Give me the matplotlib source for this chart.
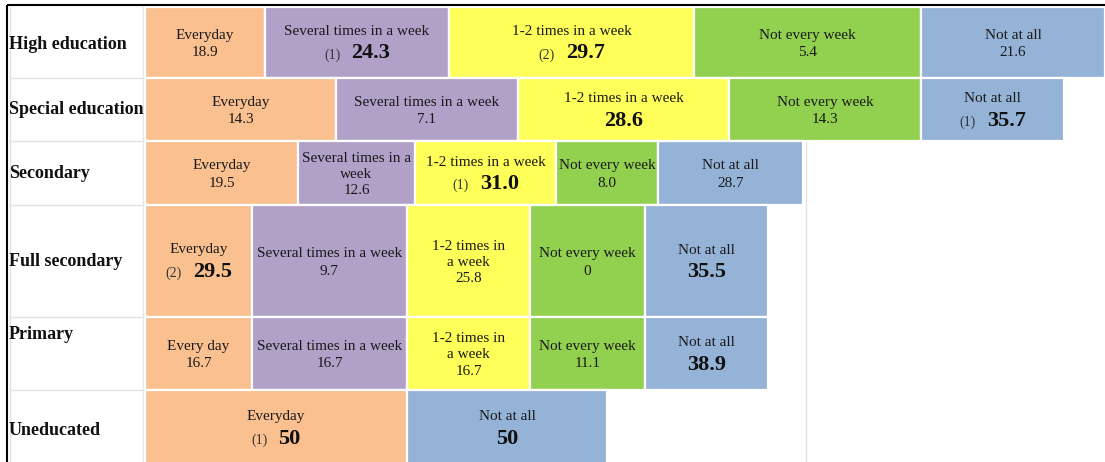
import numpy as np
import matplotlib
matplotlib.use("Agg")
import matplotlib.pyplot as plt
from matplotlib.offsetbox import TextArea, HPacker, AnnotationBbox

# ---------------- data ----------------
education_levels = ["High education", "Special education", "Secondary",
                    "Full secondary", "Primary", "Uneducated"]
categories = ["Everyday", "Several times in a week", "1-2 times in a week",
              "Not every week", "Not at all"]

# share of respondents (%) per category, one list per education level
high_education = [18.9, 24.3, 29.7, 5.4, 21.6]
special_education = [14.3, 7.1, 28.6, 14.3, 35.7]
secondary = [19.5, 12.6, 31.0, 8.0, 28.7]
full_secondary = [29.5, 9.7, 25.8, 0, 35.5]
primary = [16.7, 16.7, 16.7, 11.1, 38.9]
uneducated = [50, np.nan, np.nan, np.nan, 50]
values = [high_education, special_education, secondary,
          full_secondary, primary, uneducated]
value_decimals = [1, 1, 1, 1, 1, 0]

# cell labels as written in each tile
cell_labels = [
    ["Everyday", "Several times in a week", "1-2 times in a week", "Not every week", "Not at all"],
    ["Everyday", "Several times in a week", "1-2 times in a week", "Not every week", "Not at all"],
    ["Everyday", "Several times in a\nweek", "1-2 times in a week", "Not every week", "Not at all"],
    ["Everyday", "Several times in a week", "1-2 times in\na week", "Not every week", "Not at all"],
    ["Every day", "Several times in a week", "1-2 times in\na week", "Not every week", "Not at all"],
    ["Everyday", "", "", "", "Not at all"],
]

# highlighted (large bold) values and their rank markers
highlight = [
    [False, True, True, False, False],
    [False, False, True, False, True],
    [False, False, True, False, False],
    [True, False, False, False, True],
    [False, False, False, False, True],
    [True, False, False, False, True],
]
ranks = [
    [None, 1, 2, None, None],
    [None, None, None, None, 1],
    [None, None, 1, None, None],
    [2, None, None, None, None],
    [None, None, None, None, None],
    [1, None, None, None, None],
]

# tile widths (table units) as drawn in the source table
cell_widths = [
    [120, 184, 245, 227, 184],
    [191, 182, 211, 192, 143],
    [153, 117, 141, 102, 145],
    [107, 155, 123, 115, 123],
    [107, 155, 123, 115, 123],
    [262, 0, 0, 0, 200],
]
row_heights = [71, 63, 64, 112, 73, 75]

colors = ["#FAC090", "#B1A0C7", "#FFFF5A", "#92D050", "#95B3D7"]

# ---------------- layout ----------------
W, H = 1105, 462
TABLE_TOP = 7
TILE_LEFT = 145
FONT = ["Liberation Serif", "DejaVu Serif"]
TXT = "#1a1a1a"
FS = 11

fig = plt.figure(figsize=(W / 100, H / 100), dpi=100)
ax = fig.add_axes([0, 0, 1, 1])
ax.set_xlim(0, W)
ax.set_ylim(H, 0)
ax.axis("off")

row_tops = TABLE_TOP + np.concatenate([[0], np.cumsum(row_heights)[:-1]])
row_centers = row_tops + np.array(row_heights) / 2

# faint table grid lines
grid_c = "#e2e2e2"
for x in (10, 143):
    ax.plot([x, x], [TABLE_TOP, H], color=grid_c, lw=1, zorder=0)
for t in row_tops[1:]:
    ax.plot([10, 143], [t, t], color=grid_c, lw=1, zorder=0)
ax.plot([806, 806], [row_tops[2], H], color=grid_c, lw=1, zorder=0)

# tiles
for i, (vals, widths) in enumerate(zip(values, cell_widths)):
    lefts = TILE_LEFT + np.concatenate([[0], np.cumsum(widths)[:-1]])
    cy = row_centers[i]
    for j, v in enumerate(vals):
        if np.isnan(v):
            continue
        ax.barh(cy, widths[j], left=lefts[j], height=row_heights[i],
                color=colors[j], edgecolor="white", linewidth=1.6, zorder=1)
        cx = lefts[j] + widths[j] / 2
        d = value_decimals[i]
        vtxt = "0" if v == 0 else f"{v:.{d}f}"
        if highlight[i][j]:
            ax.text(cx, cy - 11, cell_labels[i][j], ha="center", va="center",
                    fontsize=FS, family=FONT, color=TXT, zorder=3,
                    linespacing=1.3)
            parts = []
            if ranks[i][j] is not None:
                parts.append(TextArea(f"({ranks[i][j]})",
                                      textprops=dict(fontsize=10, family=FONT, color="#333333")))
            parts.append(TextArea(vtxt, textprops=dict(fontsize=16, family=FONT,
                                                       fontweight="bold", color="#111111")))
            pack = HPacker(children=parts, align="baseline", pad=0, sep=8)
            ab = AnnotationBbox(pack, (cx, cy + 11), frameon=False,
                                box_alignment=(0.5, 0.5), pad=0, zorder=3)
            ax.add_artist(ab)
        else:
            label = cell_labels[i][j]
            ls = 1.32 if "\n" in label else 1.45
            ax.text(cx, cy + 1.5, label + "\n" + vtxt, ha="center", va="center",
                    fontsize=FS, family=FONT, color=TXT, zorder=3,
                    linespacing=ls, multialignment="center")

# row labels
label_dy = [2, 0, 1, 1, -19, 3]
for i, name in enumerate(education_levels):
    ax.text(9, row_centers[i] + label_dy[i], name, ha="left", va="center",
            fontsize=13, fontweight="bold", family=FONT, color="#111111", zorder=3)

# black frame lines (top and left)
ax.plot([7, W], [5, 5], color="black", lw=1.5, zorder=4, solid_capstyle="butt")
ax.plot([7, 7], [5, H], color="black", lw=1.5, zorder=4, solid_capstyle="butt")

fig.savefig("out.png", dpi=100)
